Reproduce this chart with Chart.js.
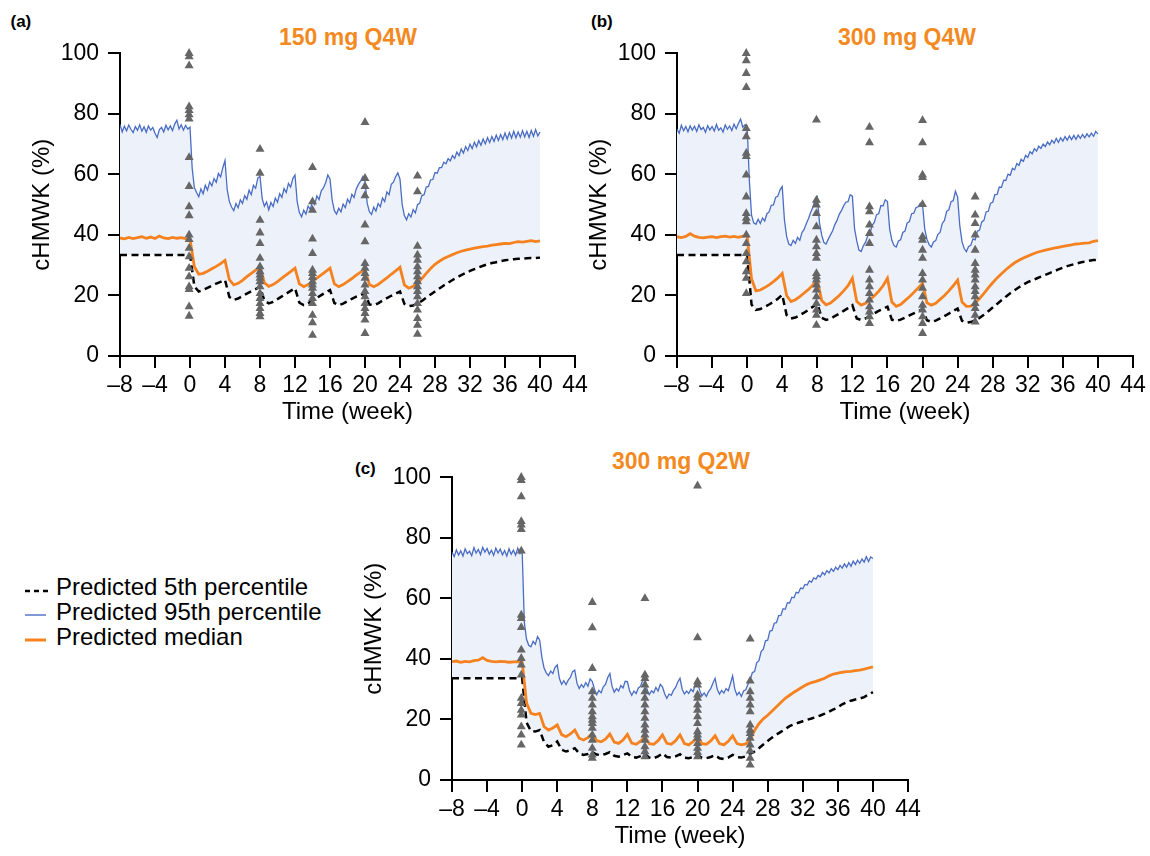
<!DOCTYPE html>
<html><head><meta charset="utf-8">
<script src="https://cdn.jsdelivr.net/npm/chart.js@4.4.1/dist/chart.umd.min.js"></script>
<style>
body{margin:0;background:#fff;width:1150px;height:856px;position:relative;overflow:hidden;font-family:"Liberation Sans",Arial,sans-serif;}
canvas{position:absolute;}
.lbl{position:absolute;font-weight:bold;font-size:17px;color:#000;line-height:20px;white-space:nowrap;}
.ttl{position:absolute;font-weight:bold;font-size:23px;color:#F38A1F;line-height:28px;width:300px;text-align:center;white-space:nowrap;}
.leg{position:absolute;left:56px;font-size:24px;line-height:26px;color:#000;white-space:nowrap;}
.sw{position:absolute;left:24px;}
</style></head>
<body>
<div class="lbl" style="left:10.5px;top:11.5px">(a)</div>
<div class="lbl" style="left:591px;top:11.5px">(b)</div>
<div class="lbl" style="left:355px;top:459px">(c)</div>
<div class="ttl" style="left:198px;top:23px">150 mg Q4W</div>
<div class="ttl" style="left:757px;top:23px">300 mg Q4W</div>
<div class="ttl" style="left:531px;top:447px">300 mg Q2W</div>

<svg class="sw" style="top:586px" width="26" height="10"><line x1="1" y1="5" x2="24" y2="5" stroke="#000" stroke-width="2.4" stroke-dasharray="5,4"/></svg>
<svg class="sw" style="top:610px" width="26" height="10"><line x1="1" y1="5" x2="22" y2="5" stroke="#4A6DC4" stroke-width="1.4"/></svg>
<svg class="sw" style="top:635px" width="26" height="10"><line x1="1" y1="5" x2="22" y2="5" stroke="#F5821F" stroke-width="3"/></svg>
<div class="leg" style="top:573.7px">Predicted 5th percentile</div>
<div class="leg" style="top:598.7px">Predicted 95th percentile</div>
<div class="leg" style="top:623.7px">Predicted median</div>

<script>
const weeksFine = [
-8,-7.75,-7.5,-7.25,-7,-6.75,-6.5,-6.25,
-6,-5.75,-5.5,-5.25,-5,-4.75,-4.5,-4.25,
-4,-3.75,-3.5,-3.25,-3,-2.75,-2.5,-2.25,
-2,-1.75,-1.5,-1.25,-1,-0.75,-0.5,-0.25,
0,0.25,0.5,0.75,1,1.25,1.5,1.75,
2,2.25,2.5,2.75,3,3.25,3.5,3.75,
4,4.25,4.5,4.75,5,5.25,5.5,5.75,
6,6.25,6.5,6.75,7,7.25,7.5,7.75,
8,8.25,8.5,8.75,9,9.25,9.5,9.75,
10,10.25,10.5,10.75,11,11.25,11.5,11.75,
12,12.25,12.5,12.75,13,13.25,13.5,13.75,
14,14.25,14.5,14.75,15,15.25,15.5,15.75,
16,16.25,16.5,16.75,17,17.25,17.5,17.75,
18,18.25,18.5,18.75,19,19.25,19.5,19.75,
20,20.25,20.5,20.75,21,21.25,21.5,21.75,
22,22.25,22.5,22.75,23,23.25,23.5,23.75,
24,24.25,24.5,24.75,25,25.25,25.5,25.75,
26,26.25,26.5,26.75,27,27.25,27.5,27.75,
28,28.25,28.5,28.75,29,29.25,29.5,29.75,
30,30.25,30.5,30.75,31,31.25,31.5,31.75,
32,32.25,32.5,32.75,33,33.25,33.5,33.75,
34,34.25,34.5,34.75,35,35.25,35.5,35.75,
36,36.25,36.5,36.75,37,37.25,37.5,37.75,
38,38.25,38.5,38.75,39,39.25,39.5,39.75,
40];

const weeksHalf = [
-8,-7.5,-7,-6.5, -6,-5.5,-5,-4.5, -4,-3.5,-3,-2.5, -2,-1.5,-1,-0.5,
0,0.5,1,1.5, 2,2.5,3,3.5, 4,4.5,5,5.5, 6,6.5,7,7.5,
8,8.5,9,9.5, 10,10.5,11,11.5, 12,12.5,13,13.5, 14,14.5,15,15.5,
16,16.5,17,17.5, 18,18.5,19,19.5, 20,20.5,21,21.5, 22,22.5,23,23.5,
24,24.5,25,25.5, 26,26.5,27,27.5, 28,28.5,29,29.5, 30,30.5,31,31.5,
32,32.5,33,33.5, 34,34.5,35,35.5, 36,36.5,37,37.5, 38,38.5,39,39.5,
40];

const xTickValues = [-8,-4,0,4,8,12,16,20,24,28,32,36,40,44];
const yTickValues = [0,20,40,60,80,100];

// ---- Panel (a) 150 mg Q4W ----
const p95A = [
76.5,74.0,75.9,74.4,76.3,74.9,73.8,75.8,
74.6,76.4,74.3,75.7,73.9,76.0,74.6,75.5,
73.6,72.2,74.8,75.5,74.0,76.2,74.7,76.0,
74.5,76.6,77.9,75.0,76.4,74.6,76.2,75.0,
75.6,62.0,55.6,54.0,52.6,55.2,53.6,56.4,
54.8,57.5,56.2,58.6,57.4,60.3,59.2,62.2,
64.6,55.0,51.0,49.2,48.0,50.4,49.0,51.6,
50.4,53.0,51.8,54.8,53.3,56.4,55.4,58.8,
59.4,52.0,49.5,50.9,48.3,50.7,49.4,52.2,
50.8,53.6,52.4,55.3,54.0,57.0,55.8,58.6,
59.8,51.0,47.4,46.0,48.2,46.9,49.5,48.4,
51.2,50.0,52.9,51.7,54.6,55.5,57.2,59.8,
58.5,51.5,48.0,46.9,48.8,47.6,50.2,49.0,
51.8,50.6,53.4,52.4,55.2,56.7,57.8,59.3,
57.8,50.5,47.7,46.8,49.2,47.9,50.4,49.3,
52.2,51.0,54.2,53.3,56.7,57.4,59.2,60.5,
58.4,50.0,46.4,45.0,47.0,45.9,48.4,47.3,
50.0,50.5,53.0,53.3,55.8,56.0,58.2,58.3,
60.6,60.4,62.2,62.2,64.0,63.5,65.2,64.5,
66.2,65.3,67.4,66.2,68.4,67.0,69.2,67.9,
70.0,68.5,70.6,69.1,71.2,69.6,71.7,70.1,
72.1,70.5,72.5,70.9,73.0,71.2,73.2,71.5,
73.7,71.7,73.8,72.0,74.2,72.1,74.0,72.3,
74.4,72.4,74.2,72.2,74.5,72.6,74.8,72.7,
74.0];
const medianA = [
39.0,38.7,39.2,38.8, 39.1,39.4,38.9,39.3, 38.8,39.6,39.0,38.8, 39.2,38.9,39.1,38.8,
38.6,29.5,27.0,27.3, 28.0,28.8,29.6,30.5, 31.6,25.2,23.5,24.0, 25.0,26.2,27.3,28.4,
29.5,24.2,23.0,23.6, 24.6,25.7,26.8,27.9, 29.0,23.8,22.9,23.6, 24.6,25.7,26.8,27.9,
29.0,23.8,22.9,23.6, 24.6,25.6,26.7,27.7, 28.6,23.6,22.9,23.6, 24.7,25.8,27.0,28.1,
29.3,23.5,22.4,23.0, 24.0,25.6,27.3,28.9, 30.3,31.3,32.2,32.9, 33.5,34.1,34.6,35.0,
35.3,35.6,35.9,36.1, 36.3,36.6,36.8,37.0, 37.2,37.1,37.5,37.8, 37.6,37.9,38.1,37.8,
38.0];
const p5A = [
33.4,33.4,33.4,33.4, 33.4,33.4,33.4,33.4, 33.4,33.4,33.4,33.4, 33.4,33.4,33.4,33.4,
33.4,23.0,21.3,21.8, 22.5,23.2,23.9,24.5, 25.1,19.5,18.5,19.0, 19.8,20.6,21.4,22.1,
22.9,18.3,17.4,17.9, 18.8,19.7,20.6,21.5, 22.4,17.6,16.8,17.4, 18.3,19.2,20.1,21.0,
21.8,17.5,16.8,17.3, 18.1,18.9,19.6,20.2, 20.7,17.0,16.8,17.4, 18.3,19.1,19.9,20.6,
21.3,17.2,16.5,16.7, 17.3,18.2,19.3,20.3, 21.3,22.3,23.3,24.2, 25.1,25.9,26.7,27.4,
28.1,28.7,29.3,29.8, 30.3,30.7,31.0,31.3, 31.6,31.8,32.0,32.1, 32.2,32.3,32.4,32.4,
32.5];
const obsTimesA = [-0.1, 8, 14, 20, 26];
const obsValuesA = [
 [100,98.9,95.9,82.4,81.1,79.7,78.3,65.6,56,49.3,46.4,40,38.5,35.6,32.8,29,26.2,22.9,22,16.3,13.2],
 [68.3,60.4,44.9,40.7,37.2,32.3,29.5,27.9,26.8,25.7,24.6,22.9,20.7,19,17.4,15.7,14.1,13],
 [62.3,51,48.2,38.7,33.9,28.4,27.3,26,24.6,23.5,22.4,20.7,19,17.4,13.5,11,6.9],
 [77.2,58.7,56,53,43.3,37.8,30.6,29,27.3,25.7,23.5,21.3,19.6,17.4,15.7,14.1,11.9,7.5],
 [59.5,54.3,36.3,33.4,31.7,29.5,27.9,26.2,24.6,22.9,21.3,19.6,17.4,15.2,12.4,10.2,7.2]
];

// ---- Panel (b) 300 mg Q4W ----
const p95B = [
75.0,73.6,76.2,74.4,75.8,74.1,76.0,74.6,
75.9,74.2,76.4,74.8,75.5,73.9,76.1,74.7,
75.8,74.3,76.5,74.6,75.4,74.0,76.3,74.9,
76.0,74.5,76.6,75.1,76.8,78.3,75.6,76.4,
76.0,58.0,46.5,44.0,43.5,45.2,43.8,45.6,
44.6,47.0,47.6,49.8,49.9,52.4,52.8,54.9,
56.0,45.0,39.5,37.0,36.5,38.2,37.2,39.2,
38.2,40.8,41.8,43.8,45.4,47.5,49.2,51.7,
52.6,44.0,40.0,37.5,37.0,38.6,40.0,41.4,
43.4,44.8,46.8,48.0,49.6,50.8,51.0,53.3,
52.8,42.0,38.0,35.0,34.5,36.4,37.6,39.7,
40.4,43.2,44.1,46.7,47.0,49.7,49.6,51.6,
51.0,42.0,38.2,36.5,36.0,38.0,38.4,40.8,
41.3,44.0,44.4,47.0,47.2,49.0,49.3,50.5,
50.0,42.0,38.6,36.8,36.0,37.7,38.1,40.2,
40.8,43.8,44.8,47.8,48.3,51.0,51.3,54.4,
52.5,43.0,37.8,35.5,34.5,36.2,36.6,38.7,
38.4,41.2,41.6,44.3,44.8,47.6,47.8,50.5,
50.8,53.3,53.4,55.8,55.7,58.1,58.0,60.1,
59.7,62.0,61.5,63.6,63.0,65.0,64.3,66.3,
65.6,67.5,66.8,68.5,67.7,69.3,68.6,70.0,
69.2,70.7,69.8,71.3,70.3,71.9,70.6,72.1,
71.0,72.5,71.3,72.7,71.5,72.9,71.6,73.0,
71.9,73.2,72.1,73.4,72.4,73.6,72.6,74.2,
73.4];
const medianB = [
39.4,39.1,39.5,40.4, 39.6,39.2,39.0,39.3, 39.4,39.1,39.4,39.6, 39.3,39.5,39.2,39.6,
39.8,25.5,21.5,21.8, 22.6,23.5,24.6,25.8, 27.3,20.0,18.0,18.6, 19.6,20.8,22.0,23.5,
25.1,18.3,16.9,17.5, 18.7,20.0,21.5,23.2, 25.7,18.0,16.8,17.4, 18.6,19.9,21.4,23.2,
25.7,17.8,16.4,17.0, 18.3,19.6,21.0,22.5, 24.0,17.6,16.8,17.4, 18.7,20.0,21.5,23.2,
25.1,17.8,16.4,16.5, 17.5,19.0,20.7,22.5, 24.2,25.8,27.2,28.5, 29.7,30.8,31.6,32.4,
33.0,33.6,34.2,34.6, 35.0,35.3,35.6,35.9, 36.2,36.5,36.7,37.0, 37.1,37.3,37.4,37.9,
38.1];
const p5B = [
33.4,33.4,33.4,33.4, 33.4,33.4,33.4,33.4, 33.4,33.4,33.4,33.4, 33.4,33.4,33.4,33.4,
33.4,17.0,15.2,15.5, 16.2,17.0,17.9,18.9, 20.2,13.5,12.4,12.7, 13.5,14.3,15.3,16.3,
17.4,12.6,11.9,12.3, 13.2,14.0,14.9,15.8, 16.8,12.4,11.9,12.4, 13.3,14.1,14.9,15.6,
16.3,12.0,11.6,12.0, 12.7,13.4,14.1,14.8, 15.4,11.8,11.3,11.7, 12.4,13.2,14.0,14.9,
15.7,11.6,11.0,11.2, 11.8,12.6,13.6,14.8, 16.0,17.2,18.4,19.6, 20.7,21.7,22.7,23.6,
24.4,25.0,25.6,26.2, 26.8,27.4,28.0,28.6, 29.2,29.7,30.1,30.5, 30.9,31.2,31.5,31.7,
31.8];
const obsTimesB = [-0.1, 7.9, 13.95, 20, 26];
const obsValuesB = [
 [100,97.6,93.4,88.7,75.2,72.5,67,65.9,59.8,52.6,47.1,45.5,44.4,40,37.2,33.9,31.2,27.9,25.7,20.7],
 [78,51.5,49.9,47.1,42.7,38.3,36.1,33.9,32.3,27.3,26.2,25.1,23.5,21.8,19.6,17.4,15.2,13.5,10.2],
 [75.6,70.5,49.3,47.7,43.3,40.5,37.2,28.4,25.1,22.9,20.7,18.5,16.3,14.6,13,10.8],
 [77.8,70.5,59.8,59,50.1,39.4,38.3,35,32.3,27.3,25.1,22.4,19.6,16.8,15.2,13,10.8,7.5],
 [52.6,46.6,43.8,40,35,30.6,28.4,26.8,25.1,22.9,21.3,19.6,17.4,15.7,13.5,11.3]
];

// ---- Panel (c) 300 mg Q2W ----
const p95C = [
75.2,73.8,76.0,74.3,75.7,74.0,76.4,74.8,
75.6,74.1,76.8,75.0,76.2,74.5,76.9,75.3,
76.5,74.6,75.9,74.2,76.6,75.0,76.3,74.4,
75.8,74.0,76.4,74.6,75.9,74.3,76.6,74.8,
75.8,52.0,46.5,44.5,44.0,45.8,44.8,47.4,
46.2,40.5,37.0,35.4,34.5,36.0,35.2,37.2,
38.0,33.5,31.6,32.8,31.5,33.0,33.9,35.8,
36.3,32.0,30.2,31.5,30.6,32.2,31.0,33.4,
32.5,30.0,28.2,29.6,28.8,30.8,31.6,33.8,
35.2,31.0,29.0,30.2,29.4,31.2,30.4,32.6,
32.5,29.5,28.0,29.4,28.6,30.4,31.0,33.0,
33.6,29.8,28.2,29.5,28.8,30.6,29.4,31.6,
30.8,28.5,27.0,28.4,28.0,29.6,30.6,32.4,
33.6,30.0,28.4,29.4,28.6,30.0,29.2,31.8,
32.4,29.6,27.8,28.8,27.6,29.2,30.2,32.0,
33.6,30.0,28.4,29.6,28.7,30.2,29.5,31.8,
34.4,30.0,28.0,29.0,27.6,29.4,29.8,31.6,
33.0,35.5,35.8,38.8,39.4,42.4,43.2,46.0,
46.2,49.2,49.4,51.8,52.0,54.3,54.4,56.6,
56.4,58.6,58.5,60.4,60.2,62.0,61.8,63.4,
63.2,64.6,64.4,65.8,65.4,66.8,66.4,67.6,
67.1,68.6,67.8,69.2,68.4,69.8,68.9,70.3,
69.5,70.9,70.0,71.4,70.3,71.8,70.6,72.3,
71.2,72.6,71.6,73.0,72.0,73.8,72.2,73.7,
73.2];
const medianC = [
39.1,39.3,38.9,39.2, 39.0,39.4,39.6,40.4, 39.5,39.2,39.0,39.2, 39.1,38.9,39.0,39.1,
39.0,25.5,22.0,21.6, 22.0,17.6,16.5,17.2, 18.2,15.0,14.3,15.2, 16.5,13.8,13.2,14.0,
15.4,13.0,12.6,13.5, 15.2,12.5,12.1,13.2, 15.1,12.2,11.8,12.8, 14.3,12.0,11.8,13.0,
14.9,12.1,11.8,13.0, 14.9,12.0,11.6,12.7, 14.3,12.0,11.8,12.9, 14.6,12.0,11.6,12.8,
14.6,12.0,11.6,11.9, 13.4,16.4,18.6,20.2, 21.4,22.8,24.2,25.6, 27.0,28.0,29.0,29.9,
30.8,31.6,32.2,32.6, 33.1,33.6,34.4,35.0, 35.3,35.6,35.8,35.9, 36.1,36.3,36.6,37.0,
37.4];
const p5C = [
33.6,33.6,33.6,33.6, 33.6,33.6,33.6,33.6, 33.6,33.6,33.6,33.6, 33.6,33.6,33.6,33.6,
33.6,19.0,16.2,16.0, 16.5,12.5,11.0,11.5, 12.7,10.0,9.4,9.8, 10.5,8.8,8.3,8.6,
9.2,8.4,8.2,8.6, 9.2,8.0,7.7,8.2, 8.8,7.6,7.4,7.9, 8.6,7.4,7.2,7.8,
8.8,7.6,7.4,7.8, 8.5,7.4,7.2,7.6, 8.2,7.3,7.2,7.6, 8.2,7.2,6.9,7.4,
8.3,7.6,7.4,7.8, 8.6,9.4,10.5,11.7, 12.9,14.0,15.0,15.9, 16.8,17.8,18.4,18.9,
19.4,19.9,20.3,20.8, 21.3,21.9,22.6,23.3, 24.0,25.0,25.7,26.2, 26.6,26.9,27.4,28.2,
29.0];
const obsTimesC = [-0.1, 8, 14, 20, 26];
const obsValuesC = [
 [100,99,93.6,85.4,84.3,82.8,75.7,54.5,53.4,50.4,43,40.2,38,34.7,27,25.3,23.1,21.5,17.6,14.9,11.6],
 [58.7,50.3,36.9,29.2,27,24.8,22.6,20.9,19.8,18.7,17.1,14.9,13.2,10.5,8.3,7.2],
 [60,34.7,33.6,31.4,29.2,27,24.8,22.6,20.4,18.2,16.5,14.9,13.2,11,9.4,7.7],
 [97.2,47,32.5,31.4,28.1,27,24.8,23.1,20.9,18.7,16,14.9,13.8,12.1,10.5,9.1,7.7],
 [46.6,32.7,29.2,27,24.8,22.6,18.2,16.5,15.4,13.8,11.6,9.6,7.2,5]
];

const FONT = '"Liberation Sans", Arial, sans-serif';
const COL_BLUE = '#4A6DC4', COL_ORANGE = '#F5821F', COL_FILL = 'rgb(236,241,250)', COL_TRI = '#666666';

function pts(xs, ys) { return ys.map((y, i) => ({x: xs[i], y: y})); }
function obsPts(times, values) {
  const out = [];
  times.forEach((t, i) => values[i].forEach(v => out.push({x: t, y: v})));
  return out;
}
function fmtTick(v) { return v < 0 ? '\u2013' + Math.abs(v) : String(v); }

function makePanel(left, top, width, height, pad, p95, med, p5, obsT, obsV) {
  const c = document.createElement('canvas');
  c.width = width; c.height = height;
  c.style.left = left + 'px'; c.style.top = top + 'px';
  c.style.width = width + 'px'; c.style.height = height + 'px';
  document.body.appendChild(c);
  const gridOpts = {display: true, drawOnChartArea: false, drawTicks: true, tickLength: 12, color: '#000', lineWidth: 2};
  new Chart(c, {
    type: 'line',
    data: {
      datasets: [
        {label: 'p5', data: pts(weeksHalf, p5), borderColor: '#000', borderWidth: 2.5, borderDash: [7, 4.5],
         pointRadius: 0, fill: false, order: 3},
        {label: 'p95', data: pts(weeksFine, p95), borderColor: COL_BLUE, borderWidth: 1.3,
         pointRadius: 0, fill: '-1', backgroundColor: COL_FILL, order: 2},
        {label: 'median', data: pts(weeksHalf, med), borderColor: COL_ORANGE, borderWidth: 2.8,
         pointRadius: 0, fill: false, order: 1},
        {type: 'scatter', label: 'obs', data: obsPts(obsT, obsV), pointStyle: 'triangle', pointRadius: 5.2,
         backgroundColor: COL_TRI, borderColor: COL_TRI, borderWidth: 0, order: 0, clip: false}
      ]
    },
    options: {
      responsive: false, animation: false, devicePixelRatio: 1,
      layout: {padding: pad},
      plugins: {legend: {display: false}, tooltip: {enabled: false}, filler: {drawTime: 'beforeDatasetsDraw'}},
      elements: {line: {tension: 0}},
      scales: {
        x: {
          type: 'linear', min: -8, max: 44,
          afterBuildTicks: s => { s.ticks = xTickValues.map(v => ({value: v})); },
          afterFit: s => { s.height = 72; },
          ticks: {color: '#000', font: {family: FONT, size: 23}, padding: 4, maxRotation: 0, autoSkip: false, callback: v => fmtTick(v)},
          grid: gridOpts,
          border: {display: true, color: '#000', width: 2},
          title: {display: true, text: 'Time (week)', color: '#000', font: {family: FONT, size: 24}, padding: {top: 0, bottom: 1}}
        },
        y: {
          type: 'linear', min: 0, max: 100,
          afterBuildTicks: s => { s.ticks = yTickValues.map(v => ({value: v})); },
          afterFit: s => { s.width = 110; },
          ticks: {color: '#000', font: {family: FONT, size: 23}, padding: 9, autoSkip: false},
          grid: gridOpts,
          border: {display: true, color: '#000', width: 2},
          title: {display: true, text: 'cHMWK (%)', color: '#000', font: {family: FONT, size: 24}, padding: {top: 17.6, bottom: 0}}
        }
      }
    }
  });
}

makePanel(10, 0, 590, 440, {top: 53.3, left: 0, right: 25, bottom: 12}, p95A, medianA, p5A, obsTimesA, obsValuesA);
makePanel(567, 0, 583, 440, {top: 53.3, left: 0, right: 17, bottom: 12}, p95B, medianB, p5B, obsTimesB, obsValuesB);
makePanel(342, 424, 590, 432, {top: 53.3, left: 0, right: 24, bottom: 4}, p95C, medianC, p5C, obsTimesC, obsValuesC);
</script>
</body></html>
